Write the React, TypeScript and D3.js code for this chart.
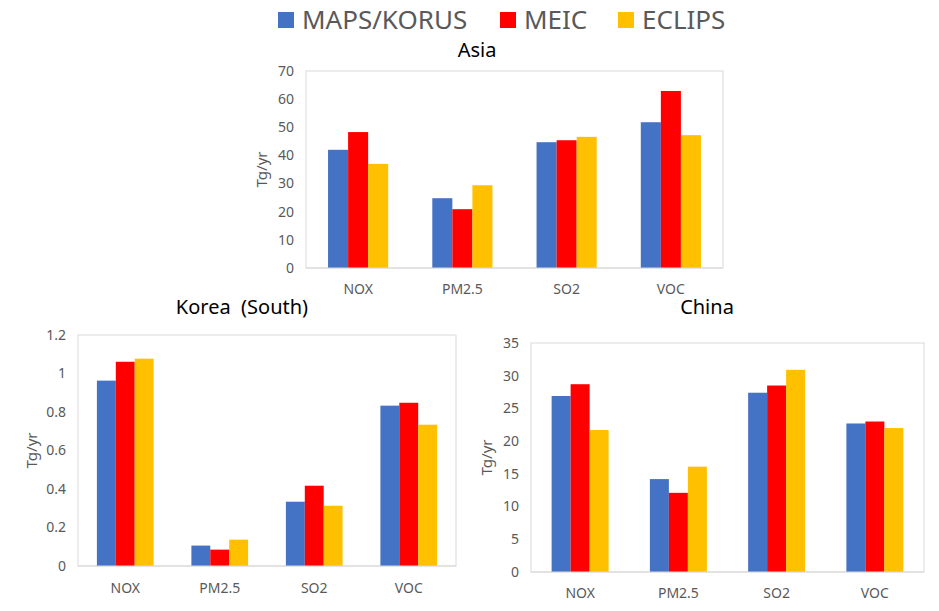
import React, { useEffect } from "react";
import * as d3 from "d3";

const categories = ["NOX", "PM2.5", "SO2", "VOC"];
const seriesNames = ["MAPS/KORUS", "MEIC", "ECLIPS"];
const seriesColors = ["#4472C4", "#FF0000", "#FFC000"];

// values per category: [MAPS/KORUS, MEIC, ECLIPS]
const asiaValues = [
  [42, 48.3, 37],
  [24.8, 20.9, 29.4],
  [44.7, 45.4, 46.6],
  [51.8, 62.9, 47.2],
];
const koreaValues = [
  [0.963, 1.061, 1.077],
  [0.106, 0.085, 0.137],
  [0.334, 0.417, 0.313],
  [0.833, 0.848, 0.734],
];
const chinaValues = [
  [26.9, 28.7, 21.7],
  [14.2, 12.1, 16.1],
  [27.4, 28.5, 30.9],
  [22.7, 23.0, 22.0],
];

const asiaTicks = [0, 10, 20, 30, 40, 50, 60, 70];
const koreaTicks = [0, 0.2, 0.4, 0.6, 0.8, 1, 1.2];
const chinaTicks = [0, 5, 10, 15, 20, 25, 30, 35];

const font = "'Noto Sans', 'Open Sans', sans-serif";
const gray = "#595959";

type PanelProps = {
  title: string;
  values: number[][];
  ticks: number[];
  left: number;
  right: number;
  top: number;
  bottom: number;
  titleX: number;
  titleY: number;
  axisTitleX: number;
  labelY: number;
  fill: number;
};

function Panel(p: PanelProps) {
  const maxV = p.ticks[p.ticks.length - 1];
  const y = d3.scaleLinear().domain([0, maxV]).range([p.bottom, p.top]);
  const pi = 1 - p.fill;
  const x0 = d3
    .scaleBand<string>()
    .domain(categories)
    .range([p.left, p.right])
    .paddingInner(pi)
    .paddingOuter(pi / 2);
  const x1 = d3
    .scaleBand<string>()
    .domain(seriesNames)
    .range([0, x0.bandwidth()]);
  const fmt = (d: number) => String(+d.toFixed(1));

  return (
    <g>
      <rect
        x={p.left}
        y={p.top}
        width={p.right - p.left}
        height={p.bottom - p.top}
        fill="none"
        stroke="#D9D9D9"
        strokeWidth={1}
      />
      {p.ticks.map((t) => (
        <text
          key={t}
          x={p.left - 12}
          y={y(t)}
          dy="0.35em"
          textAnchor="end"
          fontSize={14}
          fill={gray}
          fontFamily={font}
        >
          {fmt(t)}
        </text>
      ))}
      {categories.map((c, ci) => (
        <g key={c}>
          {seriesNames.map((s, si) => (
            <rect
              key={s}
              x={(x0(c) as number) + (x1(s) as number)}
              y={y(p.values[ci][si])}
              width={x1.bandwidth()}
              height={p.bottom - y(p.values[ci][si])}
              fill={seriesColors[si]}
            />
          ))}
          <text
            x={(x0(c) as number) + x0.bandwidth() / 2}
            y={p.labelY}
            dy="0.35em"
            textAnchor="middle"
            fontSize={14}
            fill={gray}
            fontFamily={font}
          >
            {c}
          </text>
        </g>
      ))}
      <line
        x1={p.left}
        x2={p.right}
        y1={p.bottom}
        y2={p.bottom}
        stroke="#D9D9D9"
      />
      <text
        transform={`translate(${p.axisTitleX},${(p.top + p.bottom) / 2}) rotate(-90)`}
        textAnchor="middle"
        dy="0.35em"
        fontSize={15}
        fill={gray}
        fontFamily={font}
      >
        Tg/yr
      </text>
      <text
        x={p.titleX}
        y={p.titleY}
        dy="0.35em"
        textAnchor="middle"
        fontSize={20}
        fill="#000"
        fontFamily={font}
        style={{ whiteSpace: "pre" }}
      >
        {p.title}
      </text>
    </g>
  );
}

export default function App() {
  useEffect(() => {
    document.body.style.margin = "0";
  }, []);

  const legendX = [278, 500, 618];

  return (
    <svg width={939} height={611} style={{ display: "block", background: "#fff" }}>
      <g>
        {seriesNames.map((s, i) => (
          <g key={s}>
            <rect x={legendX[i]} y={12} width={16} height={16} fill={seriesColors[i]} />
            <text
              x={legendX[i] + 24}
              y={20}
              dy="0.35em"
              fontSize={26}
              fill={gray}
              fontFamily={font}
            >
              {s}
            </text>
          </g>
        ))}
      </g>
      <Panel
        title="Korea  (South)"
        values={koreaValues}
        ticks={koreaTicks}
        left={78}
        right={456}
        top={335}
        bottom={566}
        titleX={242}
        titleY={307}
        axisTitleX={32}
        labelY={588}
        fill={0.6}
      />
      <Panel
        title="Asia"
        values={asiaValues}
        ticks={asiaTicks}
        left={306}
        right={723}
        top={71}
        bottom={268}
        titleX={477}
        titleY={50}
        axisTitleX={262}
        labelY={289}
        fill={0.577}
      />
      <Panel
        title="China"
        values={chinaValues}
        ticks={chinaTicks}
        left={531}
        right={924}
        top={343}
        bottom={572}
        titleX={707}
        titleY={307}
        axisTitleX={487}
        labelY={593}
        fill={0.58}
      />
    </svg>
  );
}
